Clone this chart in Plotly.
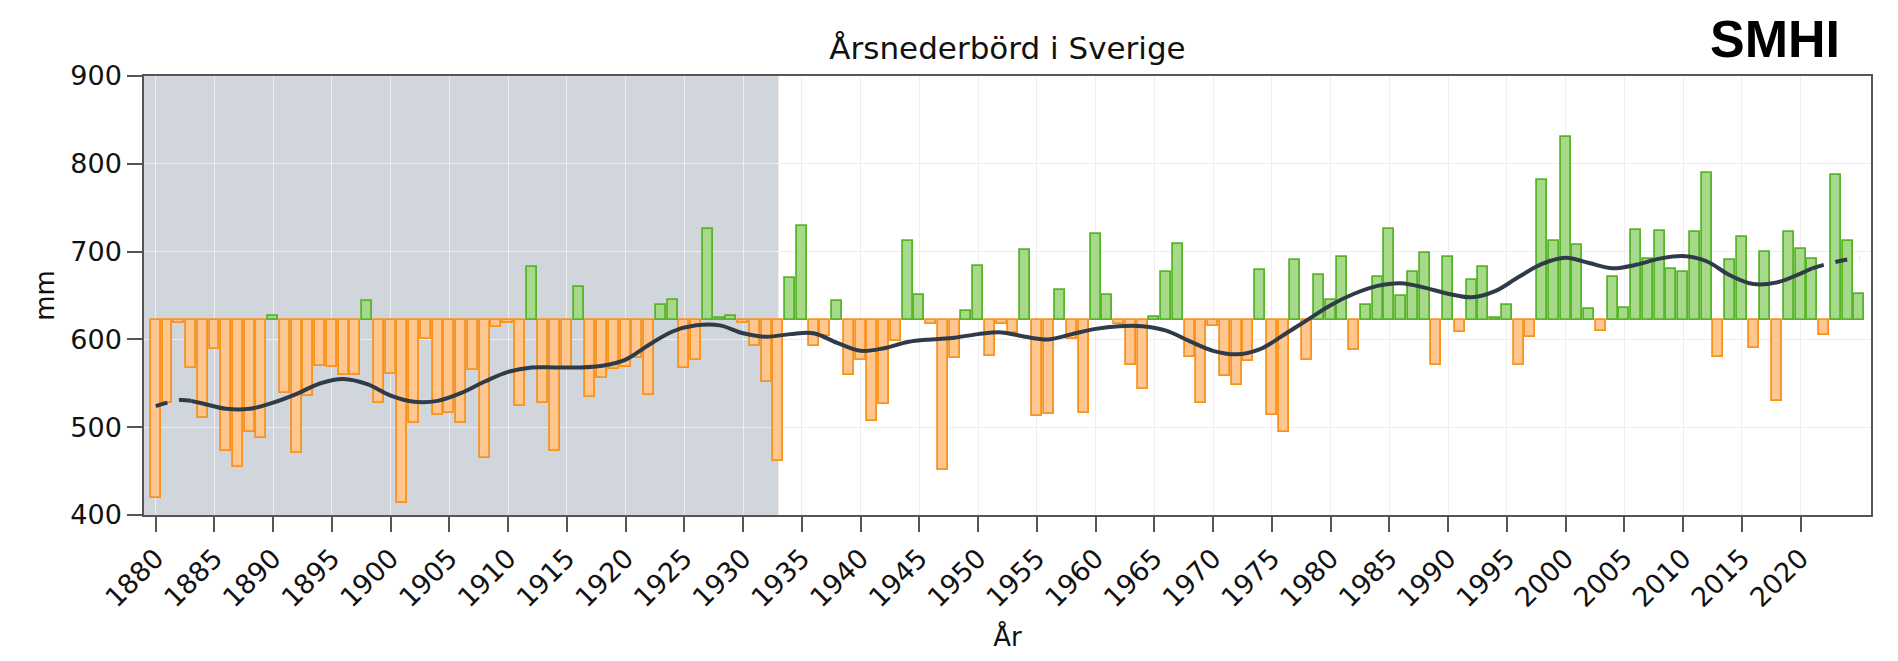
import plotly.graph_objects as go

# årsnederbörd för Sverige (mm)
years = list(range(1880, 2026))
precip = [
    419, 527, 619, 567, 511, 589, 473, 455, 495, 488,   # 1880-1889
    627, 539, 471, 536, 570, 569, 560, 559, 644, 527,   # 1890-1899
    561, 414, 505, 600, 514, 516, 505, 565, 465, 614,   # 1900-1909
    619, 524, 683, 527, 473, 568, 660, 534, 556, 566,   # 1910-1919
    569, 579, 537, 639, 645, 567, 577, 726, 624, 627,   # 1920-1929
    619, 592, 552, 461, 670, 729, 592, 604, 644, 559,   # 1930-1939
    576, 507, 526, 598, 712, 651, 617, 451, 579, 632,   # 1940-1949
    684, 581, 618, 607, 702, 513, 515, 656, 601, 516,   # 1950-1959
    720, 651, 617, 571, 543, 625, 677, 709, 580, 527,   # 1960-1969
    615, 558, 548, 575, 679, 514, 494, 691, 576, 673,   # 1970-1979
    645, 694, 588, 639, 671, 726, 650, 677, 698, 571,   # 1980-1989
    694, 609, 668, 683, 624, 639, 571, 603, 781, 712,   # 1990-1999
    830, 707, 635, 610, 671, 636, 725, 692, 724, 680,   # 2000-2009
    677, 722, 789, 580, 691, 717, 590, 699, 530, 722,   # 2010-2019
    703, 692, 605, 787, 712, 652,                       # 2020-2025
]
normal = 622

# utjämnad kurva
smooth_years = [1880, 1882, 1883, 1884, 1886, 1888, 1890, 1892, 1894, 1896, 1898,
                1900, 1902, 1904, 1906, 1908, 1910, 1912, 1914, 1916, 1918,
                1920, 1922, 1924, 1926, 1928, 1930, 1932, 1934, 1936, 1938,
                1940, 1942, 1944, 1946, 1948, 1950, 1952, 1954, 1956, 1958,
                1960, 1962, 1964, 1966, 1968, 1970, 1972, 1974, 1976, 1978,
                1980, 1982, 1984, 1986, 1988, 1990, 1992, 1994, 1996, 1998,
                2000, 2002, 2004, 2006, 2008, 2010, 2012, 2014, 2016, 2018,
                2020, 2021, 2022, 2024, 2025]
smooth_vals = [524, 531, 530, 527, 521, 521, 528, 538, 550, 555, 549,
               536, 529, 530, 539, 552, 563, 568, 568, 568, 570,
               577, 594, 609, 616, 616, 607, 603, 606, 607, 596,
               587, 590, 597, 600, 602, 606, 608, 603, 600, 606,
               612, 615, 615, 610, 598, 587, 583, 589, 605, 622,
               639, 652, 661, 664, 659, 652, 648, 655, 671, 686,
               693, 687, 681, 685, 692, 695, 689, 673, 663, 665,
               675, 681, 685, 691, 692]
dash_start_end = 1883
dash_end_start = 2021

shade_end = 1933
x_ticks = list(range(1880, 2021, 5))
y_ticks = list(range(400, 901, 100))

above_x = [y for y, v in zip(years, precip) if v >= normal]
above_v = [v - normal for v in precip if v >= normal]
below_x = [y for y, v in zip(years, precip) if v < normal]
below_v = [v - normal for v in precip if v < normal]

fig = go.Figure()

fig.add_trace(go.Bar(x=below_x, y=below_v, base=normal, width=0.85,
                     marker=dict(color='#ffc68f', line=dict(color='#f7931e', width=1.8)),
                     showlegend=False, hoverinfo='skip'))
fig.add_trace(go.Bar(x=above_x, y=above_v, base=normal, width=0.85,
                     marker=dict(color='#a6da8a', line=dict(color='#58b52a', width=1.8)),
                     showlegend=False, hoverinfo='skip'))

line_col = '#2f3b48'
i0 = smooth_years.index(dash_start_end)
i1 = smooth_years.index(dash_end_start)
fig.add_trace(go.Scatter(x=smooth_years[:i0 + 1], y=smooth_vals[:i0 + 1], mode='lines',
                         line=dict(color=line_col, width=4, dash='dash', shape='spline'),
                         showlegend=False, hoverinfo='skip'))
fig.add_trace(go.Scatter(x=smooth_years[i0:i1 + 1], y=smooth_vals[i0:i1 + 1], mode='lines',
                         line=dict(color=line_col, width=4, shape='spline'),
                         showlegend=False, hoverinfo='skip'))
fig.add_trace(go.Scatter(x=smooth_years[i1:], y=smooth_vals[i1:], mode='lines',
                         line=dict(color=line_col, width=4, dash='dash', shape='spline'),
                         showlegend=False, hoverinfo='skip'))

fig.add_shape(type='rect', xref='x', yref='paper', x0=1879, x1=shade_end, y0=0, y1=1,
              fillcolor='#d1d6dc', line=dict(width=0), layer='below')

# logotyp uppe till höger
fig.add_annotation(text='<b>SMHI</b>', xref='paper', yref='paper', x=0.9444, y=1.1538,
                   xanchor='center', yanchor='top', showarrow=False,
                   font=dict(family='Liberation Sans Narrow, Liberation Sans, sans-serif',
                             size=52, color='black'))

tick_font = dict(family='DejaVu Sans', size=27, color='#111')
label_font = dict(family='DejaVu Sans', size=26, color='#111')
fig.update_layout(
    width=1898, height=661,
    margin=dict(l=136, r=35, t=68, b=154),
    paper_bgcolor='white', plot_bgcolor='white',
    barmode='overlay', bargap=0,
    font=dict(family='DejaVu Sans', color='#111'),
    title=dict(text='Årsnederbörd i Sverige', x=0.5, xref='paper', xanchor='center',
               y=0.9395, yref='container', yanchor='middle',
               font=dict(family='DejaVu Sans', size=31, color='#111')),
    xaxis=dict(range=[1879, 2026], tickvals=x_ticks, tickangle=-45,
               tickfont=tick_font, ticks='outside', ticklen=15, tickwidth=1.5,
               tickcolor='#555', showline=True, linecolor='#555', linewidth=1.5,
               mirror=True, showgrid=True, gridcolor='#eeeeee', gridwidth=1,
               zeroline=False, automargin=False,
               title=dict(text='År', font=label_font, standoff=16)),
    yaxis=dict(range=[400, 900], tickvals=y_ticks, tickfont=tick_font,
               ticks='outside', ticklen=15, tickwidth=1.5, tickcolor='#555',
               showline=True, linecolor='#555', linewidth=1.5, mirror=True,
               showgrid=True, gridcolor='#eeeeee', gridwidth=1, zeroline=False,
               automargin=False,
               title=dict(text='mm', font=label_font, standoff=8)),
)

fig.write_html('out.html')
